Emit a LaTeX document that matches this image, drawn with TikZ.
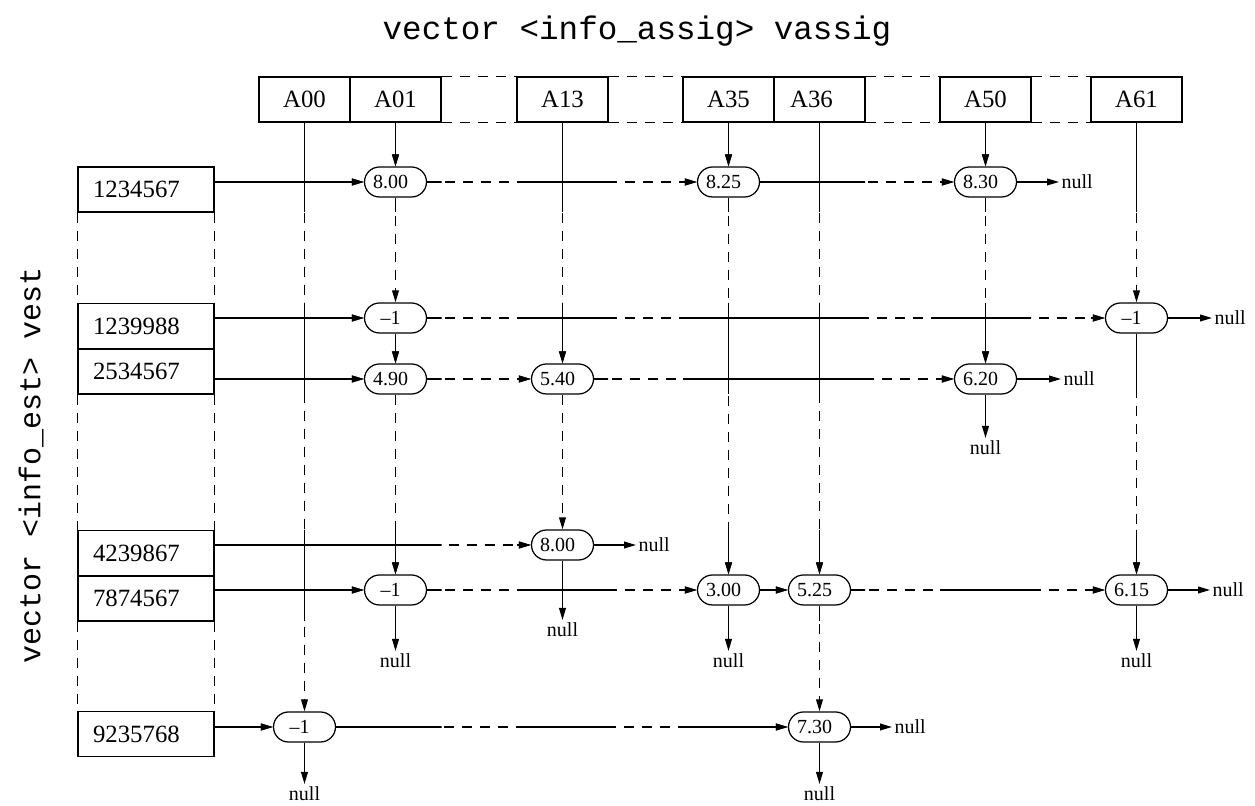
\documentclass[tikz,border=0pt]{standalone}
\usepackage{fontspec}
\setmainfont{Liberation Serif}
\setmonofont{Liberation Mono}
\usetikzlibrary{arrows.meta,shapes.misc}
\newcommand\myHlinks[1]{%
  \draw[#1] (b1.east |- v11.west) -- (v11.west);
  \draw[#1] (v11.east) -- (v13.west);
  \draw[#1] (v13.east) -- (v15.west);
  \draw[#1] (b2.east |- v21.west) -- (v21.west);
  \draw[#1] (v21.east) -- (v27.west);
  \draw[#1] (b3.east |- v31.west) -- (v31.west);
  \draw[#1] (v31.east) -- (v32.west);
  \draw[#1] (v32.east) -- (v35.west);
  \draw[#1] (b4.east |- v42.west) -- (v42.west);
  \draw[#1] (b5.east |- v51.west) -- (v51.west);
  \draw[#1] (v51.east) -- (v53.west);
  \draw[#1] (v53.east) -- (v54.west);
  \draw[#1] (v54.east) -- (v57.west);
  \draw[#1] (b6.east |- v60.west) -- (v60.west);
  \draw[#1] (v60.east) -- (v64.west);
}
\newcommand\myVlinks[1]{%
  \draw[#1] (hA00.south) -- (v60.north);
  \draw[#1] (hA01.south) -- (v11.north);
  \draw[#1] (v11.south) -- (v21.north);
  \draw[#1] (v21.south) -- (v31.north);
  \draw[#1] (v31.south) -- (v51.north);
  \draw[#1] (hA13.south) -- (v32.north);
  \draw[#1] (v32.south) -- (v42.north);
  \draw[#1] (hA35.south) -- (v13.north);
  \draw[#1] (v13.south) -- (v53.north);
  \draw[#1] (hA36.south) -- (v54.north);
  \draw[#1] (v54.south) -- (v64.north);
  \draw[#1] (hA50.south) -- (v15.north);
  \draw[#1] (v15.south) -- (v35.north);
  \draw[#1] (hA61.south) -- (v27.north);
  \draw[#1] (v27.south) -- (v57.north);
}
\begin{document}
\begin{tikzpicture}[x=0.5pt,y=-0.5pt,
  line width=0.62pt,
  every node/.style={inner sep=0pt},
  dsh/.style={dash pattern=on 5pt off 4pt},
  arr/.style={-{Triangle[length=6pt,width=3.4pt]}},
  hbox/.style={draw,minimum width=45.5pt,minimum height=22.5pt,font=\fontsize{12.4}{14}\selectfont},
  rbox/.style={draw,minimum height=22.5pt,text width=53pt,align=left,inner xsep=7.5pt,font=\fontsize{12.4}{14}\selectfont},
  val/.style={draw,rounded rectangle,minimum width=31pt,minimum height=15pt,font=\fontsize{10}{11}\selectfont,execute at begin node={\hspace*{-5pt}}},
  nul/.style={inner sep=1pt,font=\fontsize{10}{12}\selectfont},
  ttl/.style={font=\ttfamily\fontsize{16.3}{18}\selectfont},
  ttlv/.style={font=\ttfamily\fontsize{15}{18}\selectfont},
]
\useasboundingbox (0,0) rectangle (1255,806);

% titles
\node[ttl] (t1) at (637,31) {vector <info\_assig> vassig};
\node[ttlv,rotate=90] (t2) at (31,465) {vector <info\_est> vest};

% header boxes
\node[hbox] (hA00) at (304.5,99.5) {A00};
\node[hbox] (hA01) at (395.5,99.5) {A01};
\node[hbox] (hA13) at (562.5,99.5) {A13};
\node[hbox] (hA35) at (728.5,99.5) {A35};
\node[hbox] (hA36) at (819.5,99.5) {\hspace*{-8pt}A36};
\node[hbox] (hA50) at (985.5,99.5) {A50};
\node[hbox] (hA61) at (1136.5,99.5) {A61};
\draw[dsh] (hA01.north east) -- (hA13.north west);
\draw[dsh] (hA01.south east) -- (hA13.south west);
\draw[dsh] (hA13.north east) -- (hA35.north west);
\draw[dsh] (hA13.south east) -- (hA35.south west);
\draw[dsh] (hA36.north east) -- (hA50.north west);
\draw[dsh] (hA36.south east) -- (hA50.south west);
\draw[dsh] (hA50.north east) -- (hA61.north west);
\draw[dsh] (hA50.south east) -- (hA61.south west);

% row boxes
\node[rbox] (b1) at (146,189.5) {1234567};
\node[rbox] (b2) at (146,326) {1239988};
\node[rbox] (b3) at (146,371.5) {2534567};
\node[rbox] (b4) at (146,553) {4239867};
\node[rbox] (b5) at (146,598.5) {7874567};
\node[rbox] (b6) at (146,734) {9235768};
\draw[dsh] (b1.south west) -- (b2.north west);
\draw[dsh] (b1.south east) -- (b2.north east);
\draw[dsh] (b3.south west) -- (b4.north west);
\draw[dsh] (b3.south east) -- (b4.north east);
\draw[dsh] (b5.south west) -- (b6.north west);
\draw[dsh] (b5.south east) -- (b6.north east);

% value nodes
\node[val] (v11) at (395.5,182) {8.00};
\node[val] (v13) at (728.5,182) {8.25};
\node[val] (v15) at (985.5,182) {8.30};
\node[val] (v21) at (395.5,318) {–1};
\node[val] (v27) at (1136.5,318) {–1};
\node[val] (v31) at (395.5,379) {4.90};
\node[val] (v32) at (562.5,379) {5.40};
\node[val] (v35) at (985.5,379) {6.20};
\node[val] (v42) at (562.5,545) {8.00};
\node[val] (v51) at (395.5,590) {–1};
\node[val] (v53) at (728.5,590) {3.00};
\node[val] (v54) at (819.5,590) {5.25};
\node[val] (v57) at (1136.5,590) {6.15};
\node[val] (v60) at (304.5,727) {–1};
\node[val] (v64) at (819.5,727) {7.30};

% links: dashed base, solid inside bands
\myHlinks{arr,dsh}
\myVlinks{arr,dsh}
\begin{scope}
  \clip (70,0) rectangle (441.5,806) (517,0) rectangle (608,806)
        (683,0) rectangle (865,806) (940,0) rectangle (1031,806)
        (1091,0) rectangle (1182,806);
  \myHlinks{arr}
\end{scope}
\begin{scope}
  \clip (0,70) rectangle (1255,212) (0,303) rectangle (1255,394)
        (0,530) rectangle (1255,621) (0,711) rectangle (1255,757);
  \myVlinks{arr}
\end{scope}

% null ends
\node[nul,anchor=west] (z1) at (1059,182) {null};
\draw[arr] (v15.east) -- (z1.west);
\node[nul,anchor=west] (z2) at (1212,318) {null};
\draw[arr] (v27.east) -- (z2.west);
\node[nul,anchor=west] (z3r) at (1061,379) {null};
\draw[arr] (v35.east) -- (z3r.west);
\node[nul,anchor=north] (z3d) at (985.5,438) {null};
\draw[arr] (v35.south) -- (z3d.north);
\node[nul,anchor=west] (z4r) at (636,545) {null};
\draw[arr] (v42.east) -- (z4r.west);
\node[nul,anchor=north] (z4d) at (562.5,620) {null};
\draw[arr] (v42.south) -- (z4d.north);
\node[nul,anchor=north] (z5a) at (395.5,651) {null};
\draw[arr] (v51.south) -- (z5a.north);
\node[nul,anchor=north] (z5b) at (728.5,651) {null};
\draw[arr] (v53.south) -- (z5b.north);
\node[nul,anchor=west] (z5r) at (1210,590) {null};
\draw[arr] (v57.east) -- (z5r.west);
\node[nul,anchor=north] (z5d) at (1136.5,651) {null};
\draw[arr] (v57.south) -- (z5d.north);
\node[nul,anchor=north] (z6a) at (304.5,784) {null};
\draw[arr] (v60.south) -- (z6a.north);
\node[nul,anchor=west] (z6r) at (892,727) {null};
\draw[arr] (v64.east) -- (z6r.west);
\node[nul,anchor=north] (z6d) at (819.5,784) {null};
\draw[arr] (v64.south) -- (z6d.north);
\end{tikzpicture}
\end{document}
